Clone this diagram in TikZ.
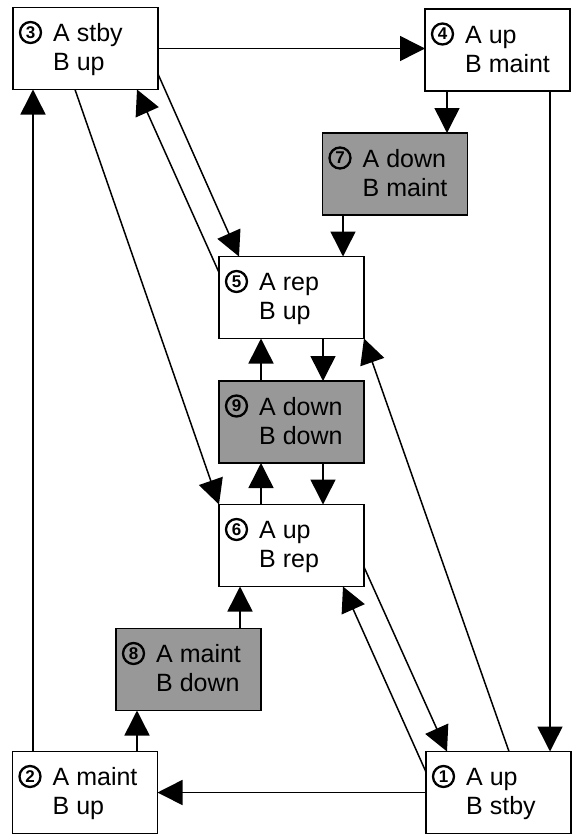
\documentclass[tikz,border=0pt]{standalone}
\usepackage{fontspec}
\setmainfont{Liberation Sans}
\usetikzlibrary{arrows.meta}
\definecolor{boxgray}{RGB}{152,152,152}
\newcommand\statebox[7]{%
  \node[statebox,fill=#7] (#1) at (#2,#3) {};
  \node[numlbl] (#1n) at ([xshift=17.5pt,yshift=-25pt]#1.north west) {#4};
  \node[lbl] (#1a) at ([xshift=40pt,yshift=-34pt]#1.north west) {#5};
  \node[lbl] (#1b) at ([xshift=40pt,yshift=-63pt]#1.north west) {#6};
}
\begin{document}
\begin{tikzpicture}[x=1pt,y=-1pt,
  statebox/.style={draw,line width=1.6pt,minimum width=145pt,minimum height=82pt,inner sep=0pt,outer sep=0pt},
  lbl/.style={anchor=base west,inner sep=0pt,font=\fontsize{25}{29}\selectfont},
  numlbl/.style={circle,draw,line width=2.3pt,minimum size=21pt,inner sep=0pt,font=\fontsize{17}{17}\selectfont\bfseries},
  arr/.style={-{Triangle[length=25pt,width=25pt]},line width=1.5pt}]
\useasboundingbox (0,0) rectangle (572,835);
\fill[white] (0,0) rectangle (572,835);
\statebox{n3}{85.5}{48.5}{3}{A stby}{B up}{white}
\statebox{n4}{497.5}{50}{4}{A up}{B maint}{white}
\statebox{n7}{395}{174}{7}{A down}{B maint}{boxgray}
\statebox{n5}{291.5}{297.5}{5}{A rep}{B up}{white}
\statebox{n9}{291.5}{422}{9}{A down}{B down}{boxgray}
\statebox{n6}{291.5}{545.5}{6}{A up}{B rep}{white}
\statebox{n8}{188.5}{669.5}{8}{A maint}{B down}{boxgray}
\statebox{n2}{85}{792.5}{2}{A maint}{B up}{white}
\statebox{n1}{498.5}{792.5}{1}{A up}{B stby}{white}
% connectors
\draw[arr] (n3.east) -- (n3.east -| n4.west);
\draw[arr] ([xshift=-50.5pt]n4.south) -- ([xshift=-50.5pt]n4.south |- n7.north);
\draw[arr] ([xshift=52.5pt]n4.south) -- ([xshift=52.5pt]n4.south |- n1.north);
\draw[arr] ([xshift=-52pt]n7.south) -- ([xshift=-52pt]n7.south |- n5.north);
\draw[arr] ([yshift=-25.5pt]n3.east) -- ([xshift=-52.5pt]n5.north);
\draw[arr] ([yshift=-16pt]n5.north west) -- ([xshift=51.5pt]n3.south);
\draw[arr] ([xshift=-10.5pt]n3.south) -- (n6.north west);
\draw[arr] ([xshift=31.5pt]n5.south) -- ([xshift=31.5pt]n5.south |- n9.north);
\draw[arr] ([xshift=-30.5pt]n9.north) -- ([xshift=-30.5pt]n9.north |- n5.south);
\draw[arr] ([xshift=31.5pt]n9.south) -- ([xshift=31.5pt]n9.south |- n6.north);
\draw[arr] ([xshift=-30.5pt]n6.north) -- ([xshift=-30.5pt]n6.north |- n9.south);
\draw[arr] ([xshift=10.5pt]n1.north) -- (n5.south east);
\draw[arr] ([yshift=-21.5pt]n6.east) -- ([xshift=-51.5pt]n1.north);
\draw[arr] ([yshift=20.5pt]n1.west) -- ([xshift=51.5pt]n6.south);
\draw[arr] ([xshift=51.5pt]n8.north) -- ([xshift=51.5pt]n8.north |- n6.south);
\draw[arr] ([xshift=52pt]n2.north) -- ([xshift=52pt]n2.north |- n8.south);
\draw[arr] ([xshift=-52pt]n2.north) -- ([xshift=-52pt]n2.north |- n3.south);
\draw[arr] (n1.west) -- (n1.west -| n2.east);
\end{tikzpicture}
\end{document}
